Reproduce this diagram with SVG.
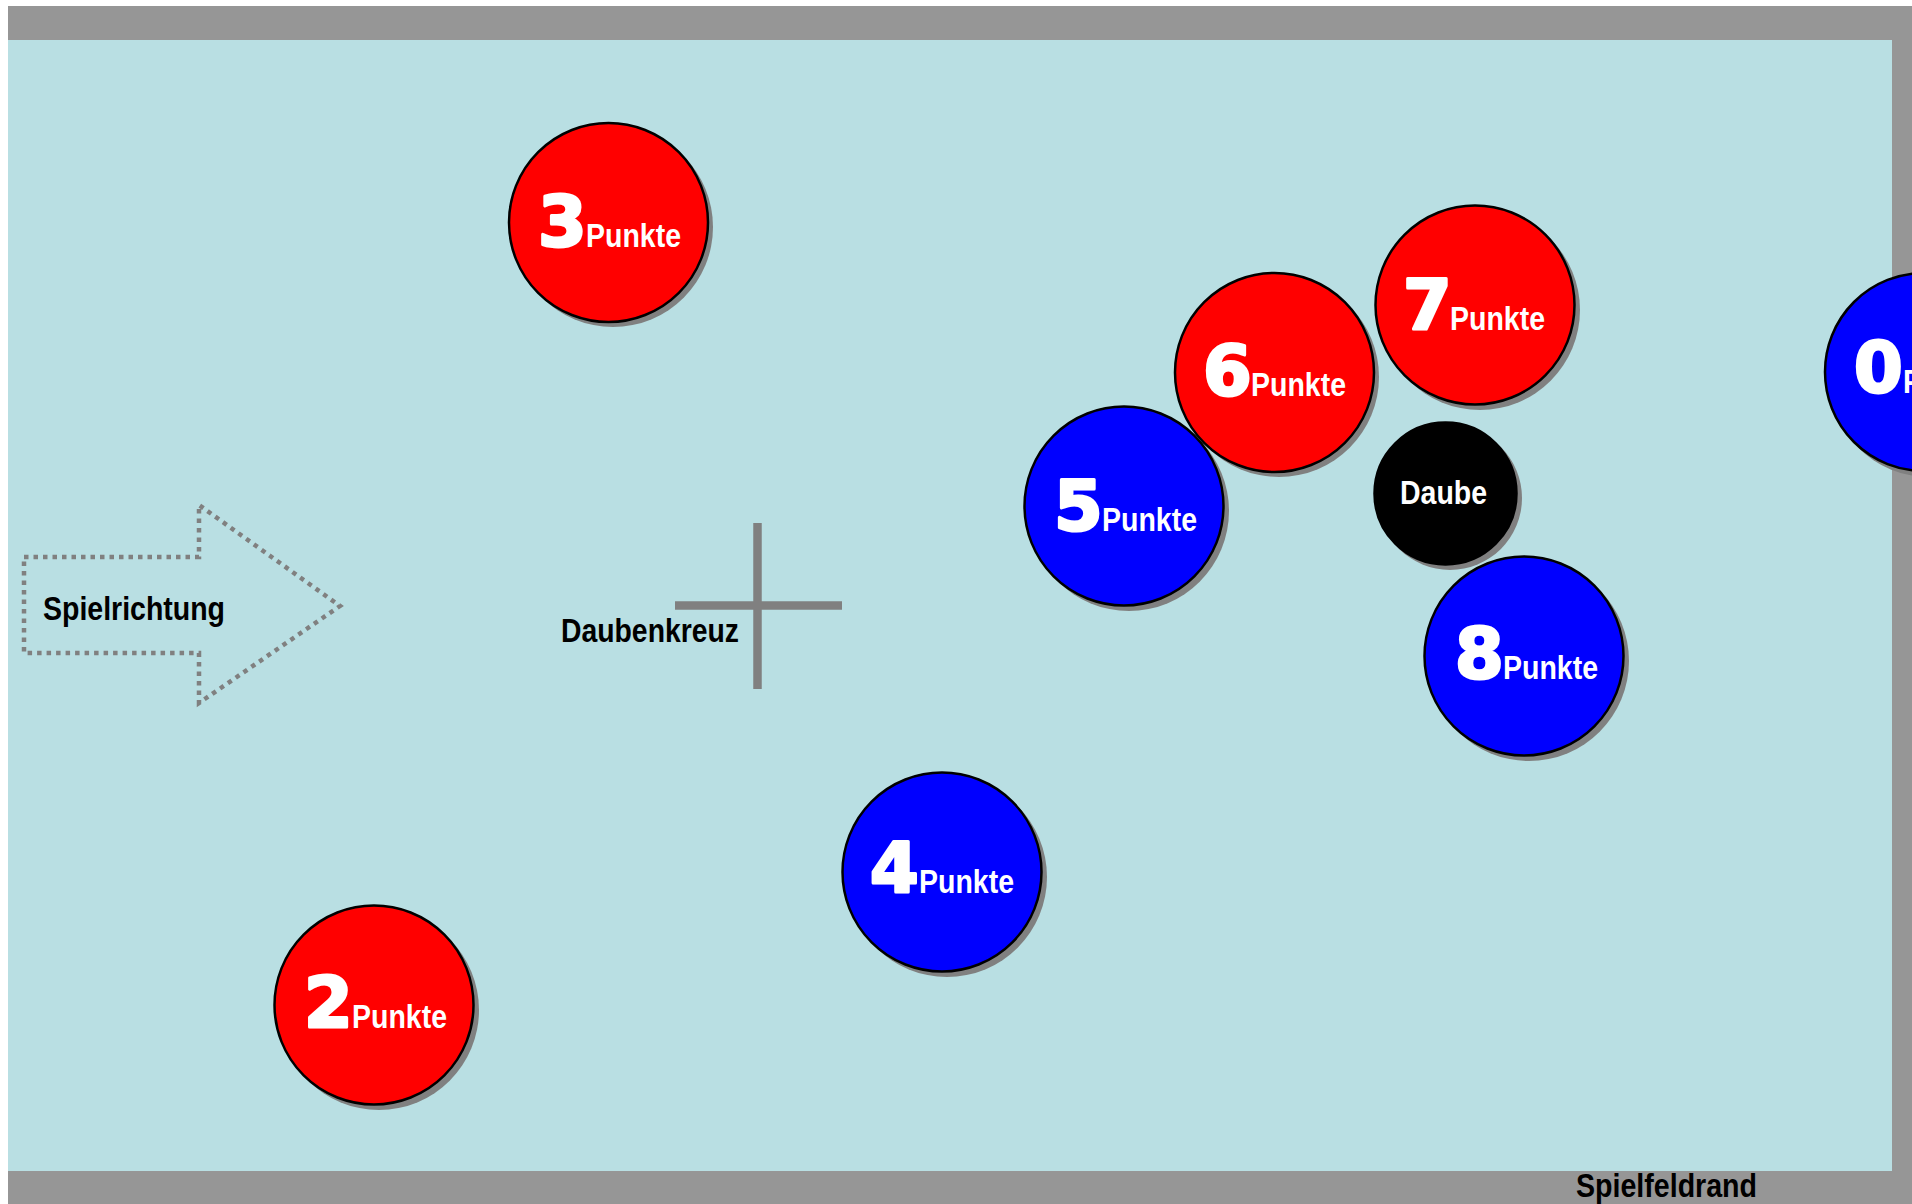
<svg xmlns="http://www.w3.org/2000/svg" width="1912" height="1204" viewBox="0 0 1912 1204">
<style>
.sh{fill:#808080}
.red{fill:#ff0000;stroke:#000;stroke-width:2.5}
.blue{fill:#0000ff;stroke:#000;stroke-width:2.5}
.blk{fill:#000;stroke:#000;stroke-width:2.5}
.dig{font-family:"DejaVu Sans","Liberation Sans",sans-serif;font-weight:bold;font-size:70px;fill:#fff;stroke:#fff;stroke-width:3;stroke-linejoin:round}
.pk{font-family:"Liberation Sans",Arial,sans-serif;font-weight:bold;font-size:34px;fill:#fff}
.lbl{font-family:"Liberation Sans",Arial,sans-serif;font-weight:bold;font-size:34px;fill:#000}
</style>
<g id="field">
<rect x="8" y="6" width="1904" height="1198" fill="#969696"/>
<rect x="8" y="40" width="1884" height="1131" fill="#b9dfe3"/>
</g>
<g id="spielfeldrand"><text class="lbl" x="1576" y="1197" textLength="181" lengthAdjust="spacingAndGlyphs">Spielfeldrand</text></g>
<g id="spielrichtung">
<polygon points="24,557 199,557 199,505 340,606 199,703 199,653 24,653" fill="none" stroke="#808080" stroke-width="4.5" stroke-dasharray="4.5 5"/>
<text class="lbl" x="43" y="620" textLength="182" lengthAdjust="spacingAndGlyphs">Spielrichtung</text>
</g>
<g id="daubenkreuz">
<line x1="757.5" y1="523" x2="757.5" y2="689" stroke="#808080" stroke-width="8.5"/>
<line x1="675" y1="605.5" x2="842" y2="605.5" stroke="#808080" stroke-width="8.5"/>
<text class="lbl" x="561" y="642" textLength="178" lengthAdjust="spacingAndGlyphs">Daubenkreuz</text>
</g>
<g id="kugel3">
<circle class="sh" cx="613" cy="227" r="100"/>
<circle class="red" cx="608.5" cy="222.5" r="99.5"/>
<text class="dig" x="538" y="246">3</text>
<text class="pk" x="586" y="247" textLength="95" lengthAdjust="spacingAndGlyphs">Punkte</text>
</g>
<g id="kugel2">
<circle class="sh" cx="379" cy="1010" r="100"/>
<circle class="red" cx="374" cy="1005" r="99.5"/>
<text class="dig" x="304" y="1027">2</text>
<text class="pk" x="352" y="1028" textLength="95" lengthAdjust="spacingAndGlyphs">Punkte</text>
</g>
<g id="kugel4">
<circle class="sh" cx="947" cy="877" r="100"/>
<circle class="blue" cx="942" cy="872" r="99.5"/>
<text class="dig" x="870" y="892">4</text>
<text class="pk" x="919" y="893" textLength="95" lengthAdjust="spacingAndGlyphs">Punkte</text>
</g>
<g id="kugel6">
<circle class="sh" cx="1279" cy="377" r="100"/>
<circle class="red" cx="1274.5" cy="372.5" r="99.5"/>
<text class="dig" x="1203" y="395">6</text>
<text class="pk" x="1251" y="396" textLength="95" lengthAdjust="spacingAndGlyphs">Punkte</text>
</g>
<g id="kugel5">
<circle class="sh" cx="1129" cy="511" r="100"/>
<circle class="blue" cx="1124" cy="506" r="99.5"/>
<text class="dig" x="1054" y="530">5</text>
<text class="pk" x="1102" y="531" textLength="95" lengthAdjust="spacingAndGlyphs">Punkte</text>
</g>
<g id="kugel7">
<circle class="sh" cx="1480" cy="310" r="100"/>
<circle class="red" cx="1475" cy="305" r="99.5"/>
<text class="dig" x="1403" y="329">7</text>
<text class="pk" x="1450" y="330" textLength="95" lengthAdjust="spacingAndGlyphs">Punkte</text>
</g>
<g id="daube">
<circle class="sh" cx="1450" cy="498" r="72"/>
<circle class="blk" cx="1445.5" cy="493.5" r="71"/>
<text class="pk" x="1400" y="504" textLength="87" lengthAdjust="spacingAndGlyphs">Daube</text>
</g>
<g id="kugel8">
<circle class="sh" cx="1529" cy="661" r="100"/>
<circle class="blue" cx="1524" cy="656" r="99.5"/>
<text class="dig" x="1455" y="678">8</text>
<text class="pk" x="1503" y="679" textLength="95" lengthAdjust="spacingAndGlyphs">Punkte</text>
</g>
<g id="kugel0">
<circle class="sh" cx="1929" cy="377" r="100"/>
<circle class="blue" cx="1924" cy="372" r="99"/>
<text class="dig" x="1854" y="392">0</text>
<text class="pk" x="1903" y="393" textLength="95" lengthAdjust="spacingAndGlyphs">Punkte</text>
</g>
<g id="connectors"/>
</svg>
